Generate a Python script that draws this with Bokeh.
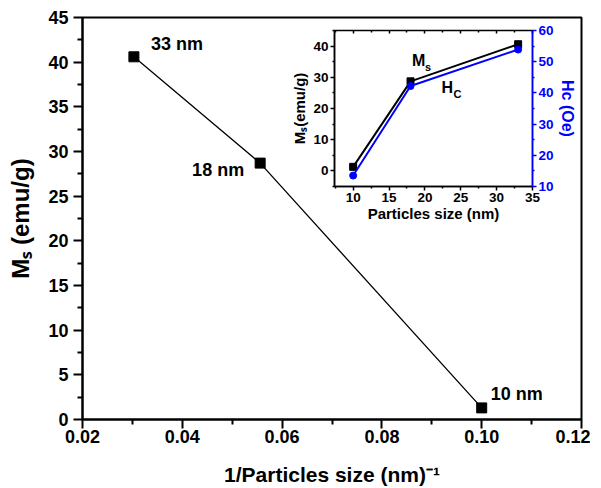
from bokeh.plotting import figure
from bokeh.models import Range1d, LinearAxis, NumeralTickFormatter, Label, FixedTicker
from bokeh.embed import file_html
from bokeh.resources import INLINE

# ---------------- data ----------------
size_labels = ["33 nm", "18 nm", "10 nm"]
inv_size = [0.0303, 0.0556, 0.1000]          # 1/particle size (nm^-1)
ms_main = [40.6, 28.7, 1.3]                   # Ms (emu/g)

inset_size = [10, 18, 33]                     # particle size (nm)
inset_ms = [1.3, 28.7, 40.6]                  # Ms (emu/g)
inset_hc = [13.5, 42.2, 53.9]                 # Hc (Oe)

main_x_ticks = [0.02, 0.04, 0.06, 0.08, 0.10, 0.12]
main_x_minor = [0.03, 0.05, 0.07, 0.09, 0.11]
main_y_ticks = [0, 5, 10, 15, 20, 25, 30, 35, 40, 45]
main_y_minor = [2.5, 7.5, 12.5, 17.5, 22.5, 27.5, 32.5, 37.5, 42.5]
inset_x_ticks = [10, 15, 20, 25, 30, 35]
inset_x_minor = [7.5, 12.5, 17.5, 22.5, 27.5, 32.5]
inset_y_ticks = [0, 10, 20, 30, 40]
inset_y_minor = [-5, 5, 15, 25, 35, 45]
inset_hc_ticks = [10, 20, 30, 40, 50, 60]
inset_hc_minor = [15, 25, 35, 45, 55]

FONT = "Liberation Sans"

# ---------------- main figure ----------------
p = figure(width=590, height=488, x_range=Range1d(0.02, 0.12), y_range=Range1d(0, 45),
           output_backend="svg", toolbar_location=None,
           min_border_left=82, min_border_right=9, min_border_top=17, min_border_bottom=67)
p.xgrid.visible = False
p.ygrid.visible = False
p.outline_line_color = "black"
p.outline_line_width = 2
p.outline_line_alpha = 1

mx = p.xaxis[0]
my = p.yaxis[0]
for ax in (mx, my):
    ax.axis_line_width = 2
    ax.axis_line_color = "black"
    ax.major_tick_line_color = "black"
    ax.minor_tick_line_color = "black"
    ax.major_tick_line_width = 2
    ax.minor_tick_line_width = 2
    ax.major_tick_in = 0
    ax.major_tick_out = 9
    ax.minor_tick_in = 0
    ax.minor_tick_out = 5
    ax.major_label_text_font = FONT
    ax.major_label_text_font_style = "bold"
    ax.major_label_text_font_size = "18px"
    ax.major_label_text_color = "black"
    ax.axis_label_text_font = FONT
    ax.axis_label_text_font_style = "bold"
    ax.axis_label_text_color = "black"

mx.ticker = FixedTicker(ticks=main_x_ticks, minor_ticks=main_x_minor)
mx.formatter = NumeralTickFormatter(format="0.00")
mx.major_label_standoff = 1
my.ticker = FixedTicker(ticks=main_y_ticks, minor_ticks=main_y_minor)
my.major_label_standoff = 5
mx.axis_label = "1/Particles size (nm)\u207b\u00b9"
mx.axis_label_text_font_size = "21px"
mx.axis_label_standoff = 17
my.axis_label = "M\u209b (emu/g)"
my.axis_label_text_font_size = "24px"
my.axis_label_standoff = 11

p.line(inv_size, ms_main, line_color="black", line_width=1.3)
p.scatter(inv_size, ms_main, marker="square", size=10, color="black")

label_offsets = [(17, 13, "left"), (-16, -7, "right"), (9, 14, "left")]
for xv, yv, lab, (dx, dy, al) in zip(inv_size, ms_main, size_labels, label_offsets):
    p.add_layout(Label(x=xv, y=yv, text=lab, x_offset=dx, y_offset=dy,
                       text_align=al, text_baseline="middle", text_font=FONT,
                       text_font_style="bold", text_font_size="18px", text_color="black"))

# ---------------- inset figure ----------------
ins = figure(width=291, height=200, x_range=Range1d(7.4, 35), y_range=Range1d(-5, 45),
             output_backend="svg", toolbar_location=None,
             min_border_left=46, min_border_right=47, min_border_top=6, min_border_bottom=37,
             background_fill_alpha=0, border_fill_alpha=0,
             styles={"position": "absolute", "left": "288px", "top": "24px"})
ins.xgrid.visible = False
ins.ygrid.visible = False
ins.outline_line_color = "black"
ins.outline_line_width = 1.5
ins.outline_line_alpha = 1
ins.extra_y_ranges = {"hc": Range1d(10, 60)}

ix = ins.xaxis[0]
iy = ins.yaxis[0]
hc_axis = LinearAxis(y_range_name="hc")
ins.add_layout(hc_axis, "right")
top_axis = LinearAxis()
ins.add_layout(top_axis, "above")

for ax, col in ((ix, "black"), (iy, "black"), (hc_axis, "blue")):
    ax.axis_line_width = 1.5
    ax.axis_line_color = col
    ax.major_tick_line_color = col
    ax.minor_tick_line_color = col
    ax.major_tick_line_width = 1.5
    ax.minor_tick_line_width = 1.5
    ax.major_tick_in = 0
    ax.major_tick_out = 4
    ax.minor_tick_in = 0
    ax.minor_tick_out = 2
    ax.major_label_text_font = FONT
    ax.major_label_text_font_style = "bold"
    ax.major_label_text_font_size = "13.5px"
    ax.major_label_text_color = col
    ax.major_label_standoff = 2
    ax.axis_label_text_font = FONT
    ax.axis_label_text_font_style = "bold"
    ax.axis_label_text_color = col
    ax.axis_label_standoff = 2

ix.ticker = FixedTicker(ticks=inset_x_ticks, minor_ticks=inset_x_minor)
iy.ticker = FixedTicker(ticks=inset_y_ticks, minor_ticks=inset_y_minor)
hc_axis.ticker = FixedTicker(ticks=inset_hc_ticks, minor_ticks=inset_hc_minor)
ix.axis_label = "Particles size (nm)"
ix.axis_label_text_font_size = "15px"
ix.axis_label_standoff = 0
iy.axis_label = "M\u209b(emu/g)"
iy.axis_label_text_font_size = "15px"
hc_axis.axis_label = "H\u1d04 (Oe)"
hc_axis.axis_label_text_font_size = "16px"

top_axis.ticker = FixedTicker(ticks=inset_x_ticks, minor_ticks=inset_x_minor)
top_axis.axis_line_color = None
top_axis.major_tick_line_color = "black"
top_axis.minor_tick_line_color = "black"
top_axis.major_tick_line_width = 1.5
top_axis.minor_tick_line_width = 1.5
top_axis.major_tick_in = 3
top_axis.major_tick_out = 0
top_axis.minor_tick_in = 2
top_axis.minor_tick_out = 0
top_axis.major_label_text_color = None
top_axis.major_label_text_font_size = "1px"
top_axis.major_label_standoff = 0

ins.line(inset_size, inset_ms, line_color="black", line_width=2)
ins.scatter(inset_size, inset_ms, marker="square", size=7, color="black")
ins.line(inset_size, inset_hc, line_color="blue", line_width=2, y_range_name="hc")
ins.scatter(inset_size, inset_hc, marker="circle", size=7, color="blue", y_range_name="hc")

for txt, xv, yv, fs in (("M", 18.2, 35.5, "16px"), ("s", 20.0, 33.3, "11px"),
                        ("H", 22.3, 26.6, "16px"), ("C", 24.0, 24.6, "11px")):
    ins.add_layout(Label(x=xv, y=yv, text=txt, text_align="left", text_baseline="middle",
                         text_font=FONT, text_font_style="bold", text_font_size=fs,
                         text_color="black"))

open("out.html", "w").write(file_html([p, ins], INLINE))
